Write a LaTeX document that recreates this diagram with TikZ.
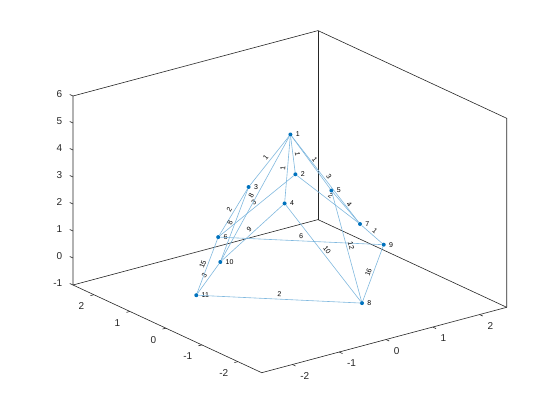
\documentclass[tikz,border=0pt]{standalone}
\usepackage{fontspec}
\setmainfont{Liberation Sans}
\definecolor{edgeblue}{RGB}{128,184,222}
\definecolor{nodeblue}{RGB}{0,114,189}
\definecolor{axisgray}{RGB}{38,38,38}
\begin{document}
\begin{tikzpicture}[x=1pt,y=-1pt,
  axisline/.style={draw=axisgray,line width=0.6pt},
  tickmark/.style={draw=axisgray,line width=0.6pt},
  ticklab/.style={font=\fontsize{10}{12}\selectfont,text=axisgray,inner sep=0pt},
  edgeline/.style={draw=edgeblue,line width=0.6pt},
  vtx/.style={circle,fill=nodeblue,inner sep=0pt,minimum size=4pt},
  vlab/.style={font=\fontsize{7}{8}\selectfont,inner sep=0pt,text=black},
  elab/.style={midway,sloped,anchor=south,inner sep=2pt,font=\fontsize{7}{8}\selectfont,text=black}]
\useasboundingbox (0,0) rectangle (560,420);
% axis box
\coordinate (A) at (73,285);
\coordinate (At) at (73,96);
\coordinate (B) at (261.7,372.7);
\coordinate (C) at (506.7,307.3);
\coordinate (Ct) at (506.7,118.3);
\coordinate (D) at (318,219.6);
\coordinate (Dt) at (318,30.6);
\draw[axisline] (A) -- (At) -- (Dt) -- (Ct) -- (C);
\draw[axisline] (Dt) -- (D);
\draw[axisline] (A) -- (D) -- (C);
\draw[axisline] (A) -- (B) -- (C);
% z ticks
\foreach \k in {-1,...,6} {
  \pgfmathsetmacro\yy{285-27*(\k+1)}
  \draw[tickmark] (73,\yy) -- ++(-3.2,-1.5);
  \node[ticklab,anchor=east] at (62.5,\yy-1.5) {\k};
}
% y ticks
\foreach \k in {2,1,0,-1,-2} {
  \pgfmathsetmacro\tt{2.58-\k}
  \pgfmathsetmacro\px{73+36*\tt}
  \pgfmathsetmacro\py{285+16.73*\tt}
  \draw[tickmark] (\px,\py) -- ++(-3.4,0.9);
  \node[ticklab,anchor=east] at (\px-9.5,\py+11.5) {\k};
}
% x ticks
\foreach \k in {-2,-1,0,1,2} {
  \pgfmathsetmacro\tt{\k+2.656}
  \pgfmathsetmacro\px{261.7+46.8*\tt}
  \pgfmathsetmacro\py{372.7-12.49*\tt}
  \draw[tickmark] (\px,\py) -- ++(3.2,1.5);
  \node[ticklab,anchor=west] at (\px+7.7,\py+11.4) {\k};
}
% vertices
\node[vtx,label={[vlab,label distance=3pt]right:1}] (n1) at (290.4,134.5) {};
\node[vtx,label={[vlab,label distance=3pt]right:2}] (n2) at (295.4,174.3) {};
\node[vtx,label={[vlab,label distance=3pt]right:3}] (n3) at (248.6,187) {};
\node[vtx,label={[vlab,label distance=3pt]right:4}] (n4) at (284.6,203.4) {};
\node[vtx,label={[vlab,label distance=3pt]right:5}] (n5) at (331.4,190.5) {};
\node[vtx,label={[vlab,label distance=3pt]right:6}] (n6) at (218.2,237.1) {};
\node[vtx,label={[vlab,label distance=3pt]right:7}] (n7) at (360,224) {};
\node[vtx,label={[vlab,label distance=3pt]right:8}] (n8) at (362,303.1) {};
\node[vtx,label={[vlab,label distance=3pt]right:9}] (n9) at (383.7,244.7) {};
\node[vtx,label={[vlab,label distance=3pt]right:10}] (n10) at (220.3,262) {};
\node[vtx,label={[vlab,label distance=3pt]right:11}] (n11) at (196.3,295.2) {};
% edges
\draw[edgeline] (n1) -- node[elab]{1} (n2);
\draw[edgeline] (n1) -- node[elab]{1} (n3);
\draw[edgeline] (n1) -- node[elab]{1} (n4);
\draw[edgeline] (n1) -- node[elab]{1} (n5);
\draw[edgeline] (n1) -- node[elab]{3} (n7);
\draw[edgeline] (n2) -- node[elab]{3} (n6);
\draw[edgeline] (n2) -- node[elab]{2} (n7);
\draw[edgeline] (n7) -- node[elab]{4} (n5);
\draw[edgeline] (n7) -- node[elab]{1} (n9);
\draw[edgeline] (n9) -- node[elab]{6} (n6);
\draw[edgeline] (n3) -- node[elab]{2} (n6);
\draw[edgeline] (n3) -- node[elab]{8} (n10);
\draw[edgeline] (n1) -- node[elab]{8} (n10);
\draw[edgeline] (n4) -- node[elab]{9} (n10);
\draw[edgeline] (n10) -- node[elab]{3} (n11);
\draw[edgeline] (n8) -- node[elab]{2} (n11);
\draw[edgeline] (n4) -- node[elab]{10} (n8);
\draw[edgeline] (n5) -- node[elab]{12} (n8);
\draw[edgeline] (n6) -- node[elab]{15} (n11);
\draw[edgeline] (n8) -- node[elab]{16} (n9);
\end{tikzpicture}
\end{document}
